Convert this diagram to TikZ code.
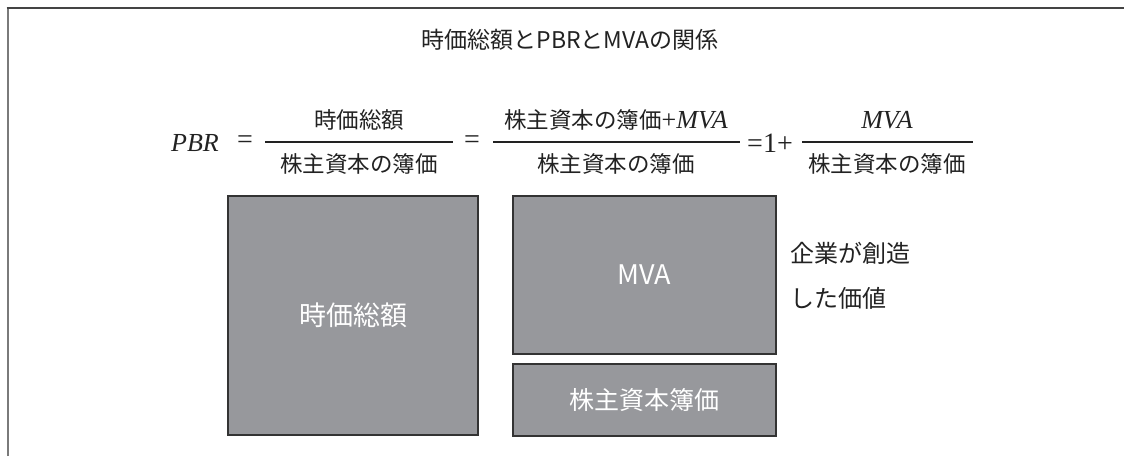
\documentclass[tikz,border=0pt]{standalone}
\usepackage{fontspec}
\newfontfamily\jp{Noto Sans CJK JP}
\newfontfamily\ser{Liberation Serif}
\definecolor{boxfill}{HTML}{97989C}
\definecolor{boxedge}{HTML}{333333}
\definecolor{ink}{HTML}{222222}
\definecolor{frametop}{HTML}{444444}
\definecolor{frameleft}{HTML}{7A7A7A}
\begin{document}
\begin{tikzpicture}[x=1pt,y=-1pt,
  bx/.style={draw=boxedge,line width=2.5pt,fill=boxfill,inner sep=0pt,text=white},
  fx/.style={inner sep=0pt,text=ink,font=\jp\fontsize{22.5}{26}\selectfont},
  sym/.style={inner sep=0pt,text=ink,font=\ser\fontsize{28}{30}\selectfont},
  it/.style={inner sep=0pt,text=ink,font=\ser\itshape\fontsize{26}{28}\selectfont},
  bar/.style={line width=1.2pt,draw=ink},
  side/.style={inner sep=0pt,anchor=west,text=ink,font=\jp\fontsize{24}{28}\selectfont}]
\useasboundingbox (0,0) rectangle (1124,456);
\fill[white] (0,0) rectangle (1124,456);
\draw[line width=2pt,frameleft] (7.5,456) -- (7.5,8);
\draw[line width=2pt,frametop] (6.5,8) -- (1124,8);
% title
\node[inner sep=0pt,text=ink,font=\jp\fontsize{23}{26}\selectfont] (title) at (570,40) {時価総額とPBRとMVAの関係};
% formula
\node[it] (pbr) at (195,143) {PBR};
\node[sym] (eq1) at (245,142) {=};
\node[fx] (n1) at (359,120) {時価総額};
\node[fx] (d1) at (359,164) {株主資本の簿価};
\draw[bar] (265,142) -- (453,142);
\node[sym] (eq2) at (472,142) {=};
\node[fx] (n2) at (616,120) {株主資本の簿価{\ser\fontsize{26}{28}\selectfont +\itshape MVA}};
\node[fx] (d2) at (616,164) {株主資本の簿価};
\draw[bar] (493,142) -- (740,142);
\node[sym] (eq3) at (770,143) {=1+};
\node[it] (n3) at (887,120) {MVA};
\node[fx] (d3) at (887,164) {株主資本の簿価};
\draw[bar] (802,142) -- (973,142);
% boxes
\node[bx,minimum width=250pt,minimum height=239pt,font=\jp\fontsize{27}{30}\selectfont] (mcap) at (353,315.5) {時価総額};
\node[bx,minimum width=263pt,minimum height=158pt,font=\jp\fontsize{27}{30}\selectfont] (mva) at (644.5,275) {MVA};
\node[bx,minimum width=263pt,minimum height=72pt,font=\jp\fontsize{25}{28}\selectfont] (book) at (644.5,400) {株主資本簿価};
\node[side] (s1) at (790,253) {企業が創造};
\node[side] (s2) at (790,298) {した価値};
\end{tikzpicture}
\end{document}
